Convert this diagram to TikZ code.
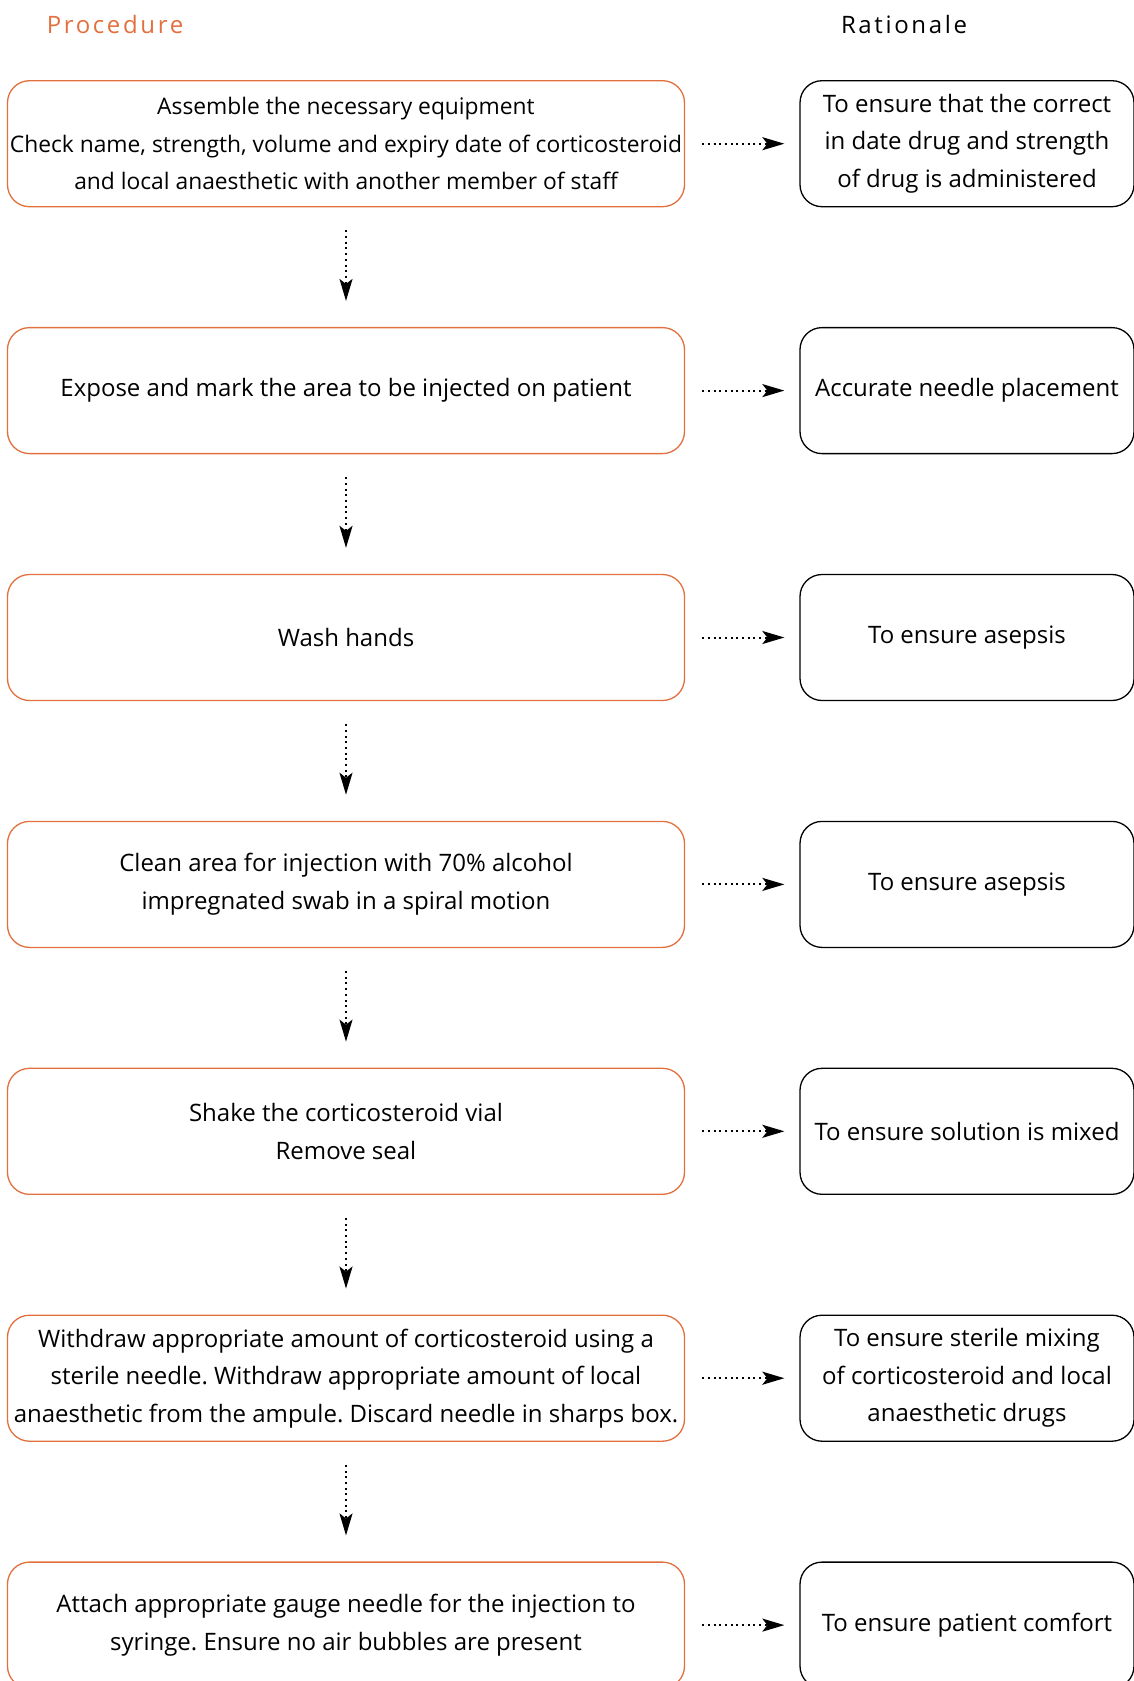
\documentclass[tikz,border=0pt]{standalone}
\usepackage{fontspec}
\setmainfont{Open Sans}
\newfontfamily\hdrfont[LetterSpace=11]{Open Sans}
\frenchspacing
\usetikzlibrary{arrows.meta}
\definecolor{procorange}{HTML}{E2703E}
\tikzset{
  procbox/.style={draw=procorange, line width=1.3pt, rounded corners=22pt, minimum width=677pt, minimum height=126pt, align=center, font=\fontsize{24}{37.5}\selectfont, inner sep=0pt},
  ratbox/.style={draw=black, line width=1.3pt, rounded corners=22pt, minimum width=334pt, minimum height=126pt, align=center, font=\fontsize{24}{37.5}\selectfont, inner sep=0pt},
  flowarr/.style={line width=2pt, dash pattern=on 2pt off 3.7pt, -{Stealth[length=22pt,width=13pt,inset=5pt]}},
  hdr/.style={font=\hdrfont\fontsize{24}{28}\selectfont, inner sep=0pt}
}
\begin{document}
\begin{tikzpicture}[x=1pt,y=-1pt]
\useasboundingbox (0,0) rectangle (1134,1681);
\clip (0,0) rectangle (1134,1681);
\node[hdr, text=procorange] (hp) at (115,24) {Procedure};
\node[hdr] (hr) at (904,24) {Rationale};
\node[procbox, font=\fontsize{22.8}{37.5}\selectfont] (L1) at (346,143.7) {Assemble the necessary equipment\\Check name, strength, volume and expiry date of corticosteroid\\and local anaesthetic with another member of staff};
\node[procbox] (L2) at (346,390.6) {Expose and mark the area to be injected on patient};
\node[procbox] (L3) at (346,637.5) {Wash hands};
\node[procbox] (L4) at (346,884.4) {Clean area for injection with 70\% alcohol\\impregnated swab in a spiral motion};
\node[procbox] (L5) at (346,1131.3) {Shake the corticosteroid vial\\Remove seal};
\node[procbox] (L6) at (346,1378.2) {Withdraw appropriate amount of corticosteroid using a\\sterile needle. Withdraw appropriate amount of local\\anaesthetic from the ampule. Discard needle in sharps box.};
\node[procbox] (L7) at (346,1625.1) {Attach appropriate gauge needle for the injection to\\syringe. Ensure no air bubbles are present};
\node[ratbox] (R1) at (967,143.7) {To ensure that the correct\\in date drug and strength\\of drug is administered};
\node[ratbox] (R2) at (967,390.6) {Accurate needle placement};
\node[ratbox] (R3) at (967,637.5) {To ensure asepsis};
\node[ratbox] (R4) at (967,884.4) {To ensure asepsis};
\node[ratbox] (R5) at (967,1131.3) {To ensure solution is mixed};
\node[ratbox] (R6) at (967,1378.2) {To ensure sterile mixing\\of corticosteroid and local\\anaesthetic drugs};
\node[ratbox] (R7) at (967,1625.1) {To ensure patient comfort};
\foreach \i/\j in {1/2,2/3,3/4,4/5,5/6,6/7}{
  \draw[flowarr, shorten <=23pt, shorten >=26pt] (L\i.south) -- (L\j.north);
}
\foreach \i in {1,...,7}{
  \draw[flowarr, shorten <=17pt, shorten >=15pt] (L\i.east) -- (R\i.west);
}
\end{tikzpicture}
\end{document}
